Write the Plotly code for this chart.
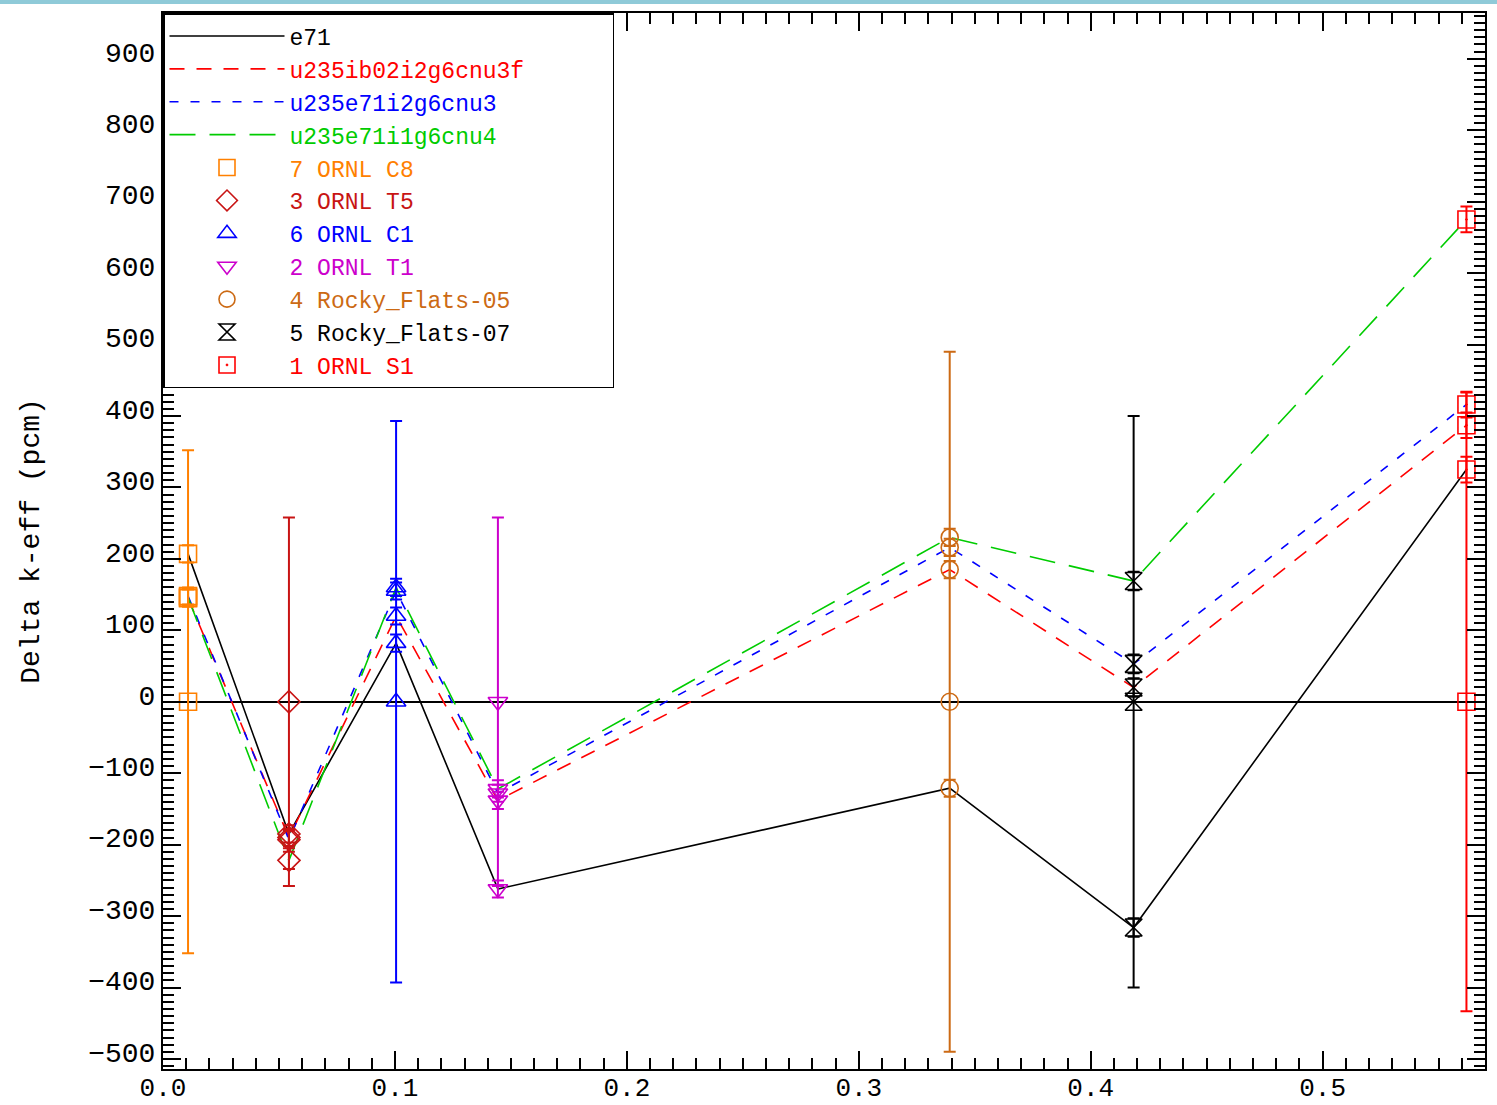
import plotly.graph_objects as go

# ---------------- data ----------------
exp_names = ["7 ORNL C8", "3 ORNL T5", "6 ORNL C1", "2 ORNL T1",
             "4 Rocky_Flats-05", "5 Rocky_Flats-07", "1 ORNL S1"]
exp_x = [0.0108, 0.0543, 0.1005, 0.1444, 0.3392, 0.4185, 0.5620]
exp_unc = [352, 258, 393, 258, 490, 400, 433]          # experimental uncertainty (pcm)
stat_unc = [12, 12, 12, 12, 12, 13, 18]                # calculation statistical uncertainty (pcm)

lib_names = ["e71", "u235ib02i2g6cnu3f", "u235e71i2g6cnu3", "u235e71i1g6cnu4"]
dk_e71 = [207, -185, 82, -262, -121, -316, 325]
dk_ib02 = [145, -190, 120, -138, 185, 20, 387]
dk_e71i2 = [148, -193, 155, -128, 216, 53, 416]
dk_e71i1 = [146, -222, 160, -122, 230, 169, 675]
lib_values = [dk_e71, dk_ib02, dk_e71i2, dk_e71i1]

y_ticks = [-500, -400, -300, -200, -100, 0, 100, 200, 300, 400, 500, 600, 700, 800, 900]
x_ticks = [0.0, 0.1, 0.2, 0.3, 0.4, 0.5]

# ---------------- styles ----------------
lib_colors = ["#000000", "#FF0000", "#0000FF", "#00CC00"]
lib_dash = ["solid", "15px,12px", "9px,12px", "26px,14px"]
exp_colors = ["#FF8000", "#C81414", "#0000FF", "#CC00CC", "#CC6A14", "#000000", "#FF0000"]
exp_symbols = ["square-open", "diamond-open", "triangle-up-open", "triangle-down-open",
               "circle-open", "hourglass-open", "square-open-dot"]
FONT = "Liberation Mono"
PAD = "\u00a0" * 6  # widens the legend box to the reference width

fig = go.Figure()

for k, (name, vals, col, dash) in enumerate(zip(lib_names, lib_values, lib_colors, lib_dash)):
    label = name + (PAD if k == 1 else "")
    fig.add_trace(go.Scatter(
        x=exp_x, y=vals, mode="lines",
        line=dict(color=col, width=1.6, dash=dash),
        name=f'<span style="color:{col}">{label}</span>',
        hoverinfo="skip",
    ))

for i, name in enumerate(exp_names):
    ys = [0] + [v[i] for v in lib_values]
    errs = [exp_unc[i]] + [stat_unc[i]] * len(lib_values)
    fig.add_trace(go.Scatter(
        x=[exp_x[i]] * len(ys), y=ys, mode="markers",
        marker=dict(symbol=exp_symbols[i], size=17, color=exp_colors[i],
                    line=dict(width=1.6, color=exp_colors[i])),
        error_y=dict(type="data", array=errs, visible=True, color=exp_colors[i],
                     thickness=2, width=6),
        name=f'<span style="color:{exp_colors[i]}">{name}</span>',
    ))

fig.update_layout(
    width=1497, height=1105,
    margin=dict(l=163, r=12, t=13, b=36),
    paper_bgcolor="white", plot_bgcolor="white",
    font=dict(family=FONT, size=23, color="black"),
    showlegend=True,
    legend=dict(
        x=0, y=1, xanchor="left", yanchor="top",
        bgcolor="white", bordercolor="black", borderwidth=1.5,
        font=dict(family=FONT, size=23),
        itemwidth=115, tracegroupgap=0,
    ),
    shapes=[dict(type="line", xref="paper", yref="paper",
                 x0=-0.2, x1=1.2, y0=1.0105, y1=1.0105,
                 line=dict(color="#8FCAD8", width=4))],
)

fig.update_xaxes(
    range=[0, 0.57], tickvals=x_ticks, tickformat=".1f", automargin=False,
    ticks="inside", ticklen=18, tickwidth=1.5, tickcolor="black",
    minor=dict(dtick=0.01, ticks="inside", ticklen=11, tickwidth=1.5, tickcolor="black"),
    showline=True, linecolor="black", linewidth=2, mirror="ticks",
    showgrid=False, zeroline=False,
    tickfont=dict(family=FONT, size=26), ticklabelstandoff=-6,
)
fig.update_yaxes(
    range=[-514, 964], tickvals=y_ticks, automargin=False,
    ticks="inside", ticklen=18, tickwidth=1.5, tickcolor="black",
    minor=dict(dtick=10, ticks="inside", ticklen=11, tickwidth=1.5, tickcolor="black"),
    showline=True, linecolor="black", linewidth=2, mirror="ticks",
    showgrid=False, zeroline=True, zerolinecolor="black", zerolinewidth=1.5,
    tickfont=dict(family=FONT, size=28), ticklabelshift=-7,
    title=dict(text="Delta k-eff (pcm)", font=dict(family=FONT, size=28), standoff=40),
)

fig.write_html("out.html", config={"displayModeBar": False},
               post_script="document.body.style.margin='0';document.body.style.overflow='hidden';")
